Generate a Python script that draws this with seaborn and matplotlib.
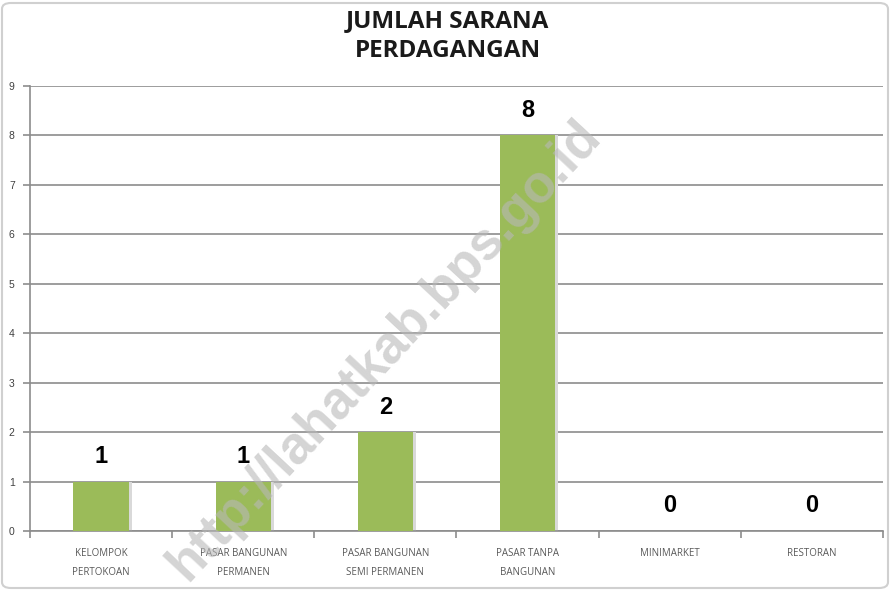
import matplotlib
matplotlib.use("Agg")
import matplotlib.pyplot as plt
import seaborn as sns
import pandas as pd
from matplotlib.patches import FancyBboxPatch

categories = ["KELOMPOK\nPERTOKOAN", "PASAR BANGUNAN\nPERMANEN", "PASAR BANGUNAN\nSEMI PERMANEN",
              "PASAR TANPA\nBANGUNAN", "MINIMARKET", "RESTORAN"]
values = [1, 1, 2, 8, 0, 0]
yticks = list(range(0, 10))
title = "JUMLAH SARANA\nPERDAGANGAN"
watermark = "http://lahatkab.bps.go.id"

sns.set_theme(style="white")
plt.rcParams['font.family'] = ['Liberation Sans', 'DejaVu Sans']
plt.rcParams['xtick.bottom'] = True
plt.rcParams['ytick.left'] = True
plt.rcParams['xtick.minor.bottom'] = True
plt.rcParams['ytick.major.size'] = 5
plt.rcParams['ytick.major.width'] = 1.2

df = pd.DataFrame({"cat": categories, "val": values})

fig = plt.figure(figsize=(8.95, 5.91), dpi=100)
ax = fig.add_axes([30/895, 1-531/591, (883-30)/895, (531-86)/591])

green = "#9BBB59"
# shadow bars
sns.barplot(data=df, x="cat", y="val", color="#d9d9d9", width=0.39, ax=ax,
            saturation=1, zorder=2)
for p in ax.patches:
    p.set_x(p.get_x() + 0.02)
    p.set_edgecolor("none")
n_shadow = len(ax.patches)
sns.barplot(data=df, x="cat", y="val", color=green, width=0.39, ax=ax,
            saturation=1, zorder=3)
for p in ax.patches[n_shadow:]:
    p.set_edgecolor("none")

ax.set_xlim(-0.5, len(categories) - 0.5)
ax.set_ylim(0, 9)
ax.set_yticks(yticks)
ax.set_yticklabels([str(t) for t in yticks], fontsize=7.5, color="#404040")
ax.yaxis.grid(True, color="#8c8c8c", linewidth=1.2, zorder=0)
ax.set_axisbelow(True)

ax.set_xticks(range(len(categories)))
ax.set_xticklabels(categories, fontsize=7, color="#595959", linespacing=2.0,
                   fontfamily=['Open Sans', 'DejaVu Sans'])
ax.tick_params(axis='x', which='major', length=0, pad=12, bottom=True)
ax.set_xticks([i - 0.5 for i in range(len(categories) + 1)], minor=True)
ax.tick_params(axis='x', which='minor', length=5, width=1.2, color="#8c8c8c",
               direction='out', bottom=True)
ax.tick_params(axis='y', which='major', length=5, width=1.2, color="#8c8c8c",
               direction='out', pad=6, left=True)
for t in ax.yaxis.get_major_ticks():
    t.tick1line.set_visible(True)
    t.tick1line.set_color("#8c8c8c")
ax.set_xlabel("")
ax.set_ylabel("")

for s in ["top", "right"]:
    ax.spines[s].set_visible(False)
for s in ["left", "bottom"]:
    ax.spines[s].set_color("#8c8c8c")
    ax.spines[s].set_linewidth(1.2)

for i, v in enumerate(values):
    ax.annotate(str(v), (i, v), xytext=(0, 25), textcoords="offset pixels",
                ha="center", va="center", fontsize=17, fontweight="bold", color="black")

fig.text(0.5, 1-36/591, title, ha="center", va="center", fontsize=17.5, fontweight="bold",
         linespacing=1.3, color="#1a1a1a", fontfamily=['Open Sans', 'DejaVu Sans'])

# chart border
border = FancyBboxPatch((2/895, 3/591), 886/895, 585/591, boxstyle="round,pad=0,rounding_size=0.01",
                        transform=fig.transFigure, fill=False, edgecolor="#d0d0d0", linewidth=1.5, zorder=0)
fig.patches.append(border)

# watermark
fig.text(385/895, 1-350/591, watermark, ha="center", va="center", rotation=47,
         fontsize=38, fontweight="bold", color="#b8b8b8", alpha=0.6, zorder=10)

fig.savefig("out.png", dpi=100)
